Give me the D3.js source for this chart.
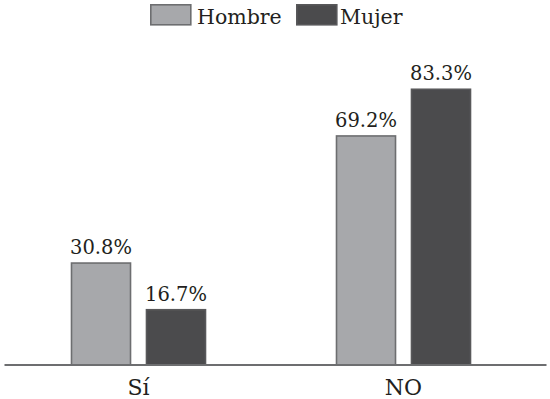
<!DOCTYPE html>
<html>
<head>
<meta charset="utf-8">
<script src="https://cdn.jsdelivr.net/npm/d3@7"></script>
<style>
  body { margin: 0; background: #fff; }
  svg { display: block; }
  svg text { font-family: "DejaVu Serif", serif; }
</style>
</head>
<body>
<svg id="chart" width="550" height="399"></svg>
<script>
const categories = ["Sí", "NO"];
const series = ["Hombre", "Mujer"];
const hombre = [30.8, 69.2];
const mujer = [16.7, 83.3];
const labels = ["30.8%", "69.2%", "16.7%", "83.3%"];

const width = 550;
const height = 399;
const svg = d3.select("#chart");

const fills = { Hombre: "#a7a8ab", Mujer: "#4b4b4d" };
const strokes = { Hombre: "#6d6e70", Mujer: "#58585a" };

// one row per bar
const rows = [];
categories.forEach((c, i) => {
    rows.push({ cat: c, key: "Hombre", value: hombre[i], label: labels[i] });
    rows.push({ cat: c, key: "Mujer", value: mujer[i], label: labels[i + 2] });
});

const x0 = d3.scaleBand().domain(categories).range([6, 536]);
const x1 = d3.scaleBand().domain(series).range([-67, 67]).paddingInner(0.213);
const y = d3.scaleLinear().domain([0, 100]).range([365, 34]);

const barX = d => x0(d.cat) + x0.bandwidth() / 2 + x1(d.key);

svg.append("g")
    .selectAll("rect")
    .data(rows)
    .join("rect")
    .attr("x", barX)
    .attr("y", d => y(d.value))
    .attr("width", x1.bandwidth())
    .attr("height", d => y(0) - y(d.value))
    .attr("fill", d => fills[d.key])
    .attr("stroke", d => strokes[d.key])
    .attr("stroke-width", 1.6);

svg.append("g")
    .selectAll("text")
    .data(rows)
    .join("text")
    .attr("x", d => barX(d) + x1.bandwidth() / 2)
    .attr("y", d => y(d.value) - 9)
    .attr("text-anchor", "middle")
    .style("font-size", "19.5px")
    .attr("fill", "#231f20")
    .text(d => d.label);

// baseline
svg.append("line")
    .attr("x1", 4.5)
    .attr("x2", 546.5)
    .attr("y1", y(0))
    .attr("y2", y(0))
    .attr("stroke", "#6d6e70")
    .attr("stroke-width", 2);

const xAxis = svg.append("g")
    .attr("transform", `translate(0,${y(0)})`)
    .call(d3.axisBottom(x0).tickSize(0));
xAxis.select(".domain").remove();
xAxis.selectAll("text")
    .attr("y", 29.5)
    .attr("dy", 0)
    .style("font-family", "'DejaVu Serif', serif")
    .style("font-size", "22px")
    .attr("fill", "#231f20");

// legend
const legendX = [150, 296];
const legend = svg.append("g")
    .selectAll("g")
    .data(series)
    .join("g")
    .attr("transform", (d, i) => `translate(${legendX[i]},4)`);

legend.append("rect")
    .attr("x", 0.8)
    .attr("y", 0.8)
    .attr("width", 40)
    .attr("height", 20)
    .attr("fill", d => fills[d])
    .attr("stroke", d => strokes[d])
    .attr("stroke-width", 1.6);

legend.append("text")
    .attr("x", d => d === "Hombre" ? 47 : 44)
    .attr("y", 19.5)
    .style("font-size", "20.5px")
    .attr("fill", "#231f20")
    .text(d => d);
</script>
</body>
</html>
